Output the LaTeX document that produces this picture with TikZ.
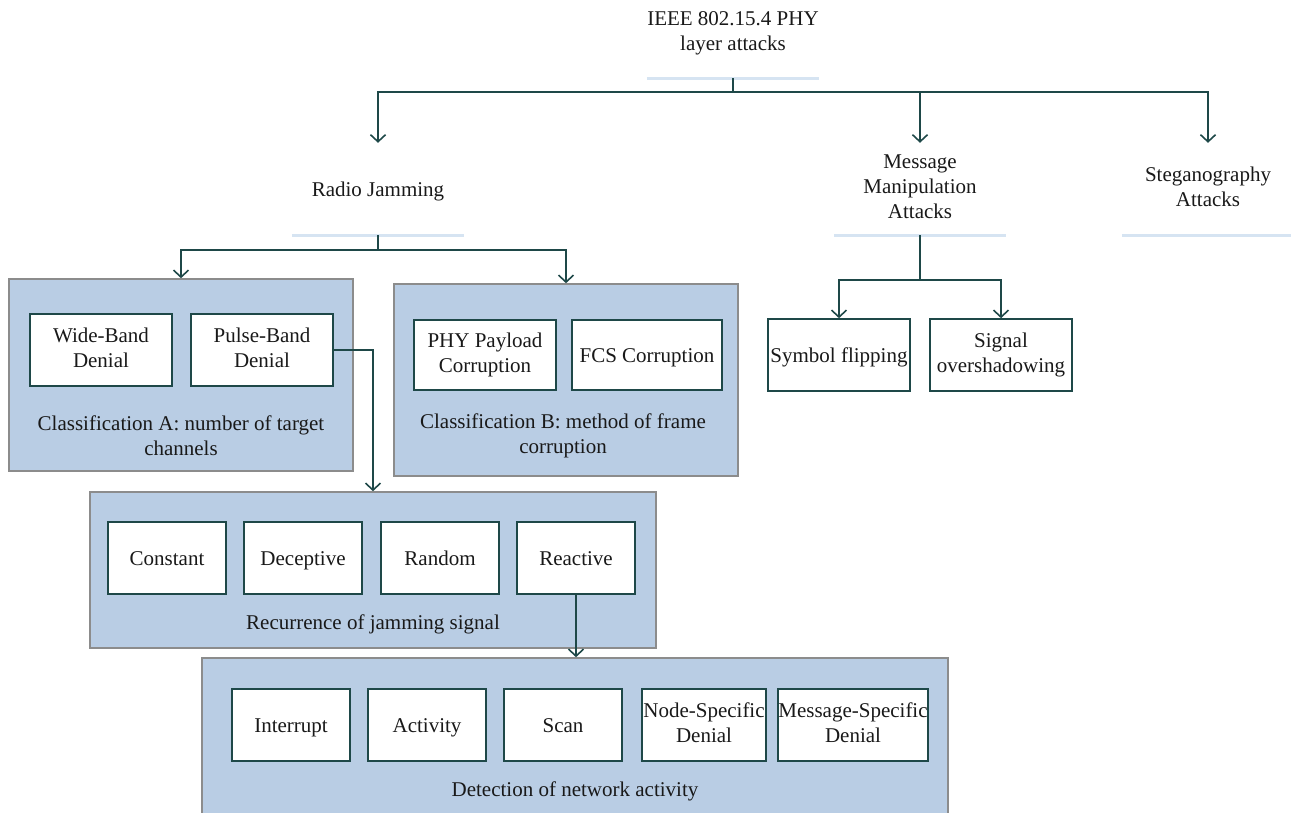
\documentclass[tikz,border=0pt]{standalone}
\usepackage{fontspec}
\setmainfont{Liberation Serif}
\usetikzlibrary{arrows.meta}
\definecolor{boxfill}{RGB}{185,205,228}
\definecolor{boxedge}{RGB}{140,140,140}
\definecolor{darkteal}{RGB}{30,72,72}
\definecolor{uline}{RGB}{214,228,242}
\newcommand{\mystrut}{\rule[-5pt]{0pt}{25pt}}
\begin{document}
\begin{tikzpicture}[x=1pt,y=-1pt,
  every node/.style={font=\fontsize{21}{25}\selectfont, text=black!90},
  struts/.style={execute at begin node={\mystrut}, execute at end node={\mystrut}},
  group/.style={draw=boxedge, fill=boxfill, line width=1.6pt, inner sep=0pt},
  leaf/.style={draw=darkteal, fill=white, line width=1.6pt, inner sep=0pt, align=center, minimum height=71pt, struts},
  head/.style={align=center, minimum width=172pt, inner sep=0pt, struts},
  captext/.style={align=center, inner sep=0pt, struts},
  conn/.style={draw=darkteal, line width=1.8pt},
  arr/.style={conn, -{Straight Barb[length=7pt,width=15pt,line width=1.6pt]}},
  ulstyle/.style={draw=uline, line width=3pt}
]
\useasboundingbox (0,0) rectangle (1291,812);

% headings
\node[head, minimum height=88pt] (title) at (733,34) {IEEE 802.15.4 PHY\\layer attacks};
\node[head, minimum height=92pt] (radio) at (378,189) {Radio Jamming};
\node[head, minimum height=92pt] (msg) at (920,189) {Message\\Manipulation\\Attacks};
\node[head, minimum height=92pt] (steg) at (1208,189) {Steganography\\Attacks};
\foreach \n in {title,radio,msg,steg}
  \draw[ulstyle] (\n.south west) -- (\n.south east);

% group boxes
\node[group, minimum width=344pt, minimum height=192pt] (boxA) at (181,375) {};
\node[group, minimum width=344pt, minimum height=192pt] (boxB) at (566,380) {};
\node[group, minimum width=566pt, minimum height=156pt] (recur) at (373,570) {};
\node[group, minimum width=746pt, minimum height=170pt] (detect) at (575,743) {};

% captions
\node[captext] (capA) at (181,438) {Classification A: number of target\\channels};
\node[captext] (capB) at (563,436) {Classification B: method of frame\\corruption};
\node[captext] (capR) at (373,622) {Recurrence of jamming signal};
\node[captext] (capD) at (575,789) {Detection of network activity};

% leaves
\node[leaf, minimum width=142pt, minimum height=72pt] (wide) at (101,350) {Wide-Band\\Denial};
\node[leaf, minimum width=142pt, minimum height=72pt] (pulse) at (262,350) {Pulse-Band\\Denial};
\node[leaf, minimum width=142pt, minimum height=70pt] (phy) at (485,355) {PHY Payload\\Corruption};
\node[leaf, minimum width=150pt, minimum height=70pt] (fcs) at (647,355) {FCS Corruption};
\node[leaf, minimum width=142pt, minimum height=72pt] (sym) at (839,355) {Symbol flipping};
\node[leaf, minimum width=142pt, minimum height=72pt] (sig) at (1001,355) {Signal\\overshadowing};

\node[leaf, minimum width=118pt, minimum height=72pt] (const) at (167,558) {Constant};
\node[leaf, minimum width=118pt, minimum height=72pt] (decep) at (303,558) {Deceptive};
\node[leaf, minimum width=118pt, minimum height=72pt] (rand) at (440,558) {Random};
\node[leaf, minimum width=118pt, minimum height=72pt] (react) at (576,558) {Reactive};

\node[leaf, minimum width=118pt, minimum height=72pt] (intr) at (291,725) {Interrupt};
\node[leaf, minimum width=118pt, minimum height=72pt] (activ) at (427,725) {Activity};
\node[leaf, minimum width=118pt, minimum height=72pt] (scan) at (563,725) {Scan};
\node[leaf, minimum width=124pt, minimum height=72pt] (nodes) at (704,725) {Node-Specific\\Denial};
\node[leaf, minimum width=150pt, minimum height=72pt] (mess) at (853,725) {Message-Specific\\Denial};

% connectors
\draw[conn] (title.south) -- ++(0,14) coordinate (tj);
\draw[arr] (tj) -| (radio.north);
\draw[arr] (tj) -| (msg.north);
\draw[arr] (tj) -| (steg.north);

\draw[conn] (radio.south) -- ++(0,15) coordinate (rj);
\draw[arr] (rj) -| (boxA.north);
\draw[arr] (rj) -| (boxB.north);

\draw[conn] (msg.south) -- ++(0,45) coordinate (mj);
\draw[arr] (mj) -| (sym.north);
\draw[arr] (mj) -| (sig.north);

\draw[arr] (pulse.east) -| (recur.north);
\draw[arr] (react.south) -- (react.south |- detect.north);
\end{tikzpicture}
\end{document}
